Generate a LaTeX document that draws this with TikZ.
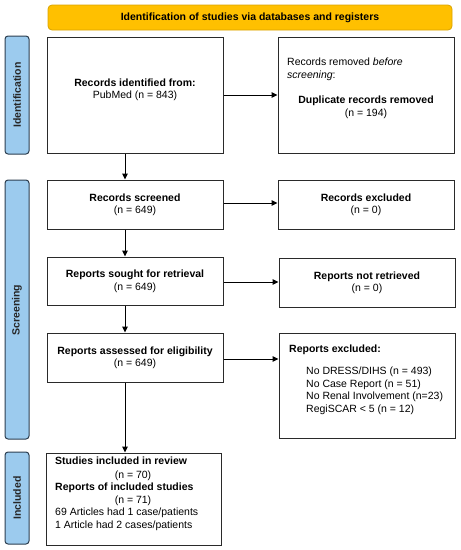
\documentclass[tikz,border=0pt]{standalone}
\usepackage{fontspec}
\setmainfont{Liberation Sans}
\usetikzlibrary{arrows.meta}
\definecolor{bannerfill}{HTML}{FFC000}
\definecolor{bannerdraw}{HTML}{D9A300}
\definecolor{sidefill}{HTML}{9CCBEE}
\definecolor{sidedraw}{HTML}{2C3E50}
\definecolor{boxdraw}{HTML}{2A2A2A}
\begin{document}
\begin{tikzpicture}[x=1pt,y=-1pt,
  every node/.style={font=\fontsize{10.5}{12.5}\selectfont, inner sep=0pt},
  box/.style={draw=boxdraw, line width=1pt, fill=white},
  side/.style={draw=sidedraw, fill=sidefill, line width=1pt, rounded corners=3pt},
  banner/.style={draw=bannerdraw, fill=bannerfill, line width=0.8pt, rounded corners=4pt},
  sidetext/.style={rotate=90, font=\fontsize{10.5}{12.5}\selectfont\bfseries, text=black!85},
  arr/.style={-{Triangle[length=6pt,width=5.5pt]}, line width=1pt, draw=black}
]
\useasboundingbox (0,0) rectangle (461,550);

% banner
\draw[banner] (48,5) rectangle (452,30);
\node[font=\fontsize{10.5}{12.5}\selectfont\bfseries] (bantext) at (250,18) {Identification of studies via databases and registers};

% side bars
\draw[side] (5,36) rectangle (29,154);
\node[sidetext] (sidid) at (17,95) {Identification};
\draw[side] (5,180) rectangle (29,439);
\node[sidetext] (sidsc) at (17,310) {Screening};
\draw[side] (5,452) rectangle (29,544);
\node[sidetext] (sidin) at (17,498) {Included};

% boxes
\node[box, minimum width=176pt, minimum height=116pt] (ident) at (135,95) {};
\node[box, minimum width=176pt, minimum height=116pt] (removed) at (366,95) {};
\node[box, minimum width=176pt, minimum height=49pt] (screened) at (135,204.5) {};
\node[box, minimum width=176pt, minimum height=49pt] (excluded) at (366,204.5) {};
\node[box, minimum width=176pt, minimum height=48pt] (sought) at (135,281) {};
\node[box, minimum width=176pt, minimum height=49pt] (notretr) at (367,282.5) {};
\node[box, minimum width=176pt, minimum height=49pt] (assessed) at (135,357.5) {};
\node[box, minimum width=176pt, minimum height=105pt] (repexcl) at (367,385.5) {};
\node[box, minimum width=175pt, minimum height=92pt] (included) at (133.5,499) {};

% texts
\node[align=center] (t1) at (135,90) {\textbf{Records identified from:}\\PubMed (n = 843)};
\node[anchor=north west, align=left] (t2a) at (287,58) {Records removed \textit{before}\\\textit{screening}:};
\node[align=center] (t2b) at (366,107.5) {\textbf{Duplicate records removed}\\(n = 194)};
\node[align=center] (t3) at (135,205) {\textbf{Records screened}\\(n = 649)};
\node[align=center] (t4) at (366,205) {\textbf{Records excluded}\\(n = 0)};
\node[align=center] (t5) at (135,281.5) {\textbf{Reports sought for retrieval}\\(n = 649)};
\node[align=center] (t6) at (367,283) {\textbf{Reports not retrieved}\\(n = 0)};
\node[align=center] (t7) at (135,358) {\textbf{Reports assessed for eligibility}\\(n = 649)};
\node[anchor=west] (t8) at (289,350) {\textbf{Reports excluded:}};
\node[anchor=north west, align=left] (t9) at (306,367) {No DRESS/DIHS (n = 493)\\No Case Report (n = 51)\\No Renal Involvement (n=23)\\RegiSCAR < 5 (n = 12)};
\node[anchor=north west, align=left] (t10) at (55,457) {\textbf{Studies included in review}};
\node[anchor=north, align=left] (t11) at (133,470.5) {(n = 70)};
\node[anchor=north west, align=left] (t12) at (55,483) {\textbf{Reports of included studies}};
\node[anchor=north] (t13) at (133,495.5) {(n = 71)};
\node[anchor=north west, align=left] (t14) at (55,508) {69 Articles had 1 case/patients\\1 Article had 2 cases/patients};

% arrows
\draw[arr] (ident.east |- 0,95) -- (removed.west |- 0,95);
\draw[arr] (screened.east |- 0,203) -- (excluded.west |- 0,203);
\draw[arr] (sought.east |- 0,282) -- (notretr.west |- 0,282);
\draw[arr] (assessed.east |- 0,359) -- (repexcl.west |- 0,359);
\draw[arr] (ident.south -| 125,0) -- (screened.north -| 125,0);
\draw[arr] (screened.south -| 125,0) -- (sought.north -| 125,0);
\draw[arr] (sought.south -| 125,0) -- (assessed.north -| 125,0);
\draw[arr] (assessed.south -| 125,0) -- (included.north -| 125,0);
\end{tikzpicture}
\end{document}
